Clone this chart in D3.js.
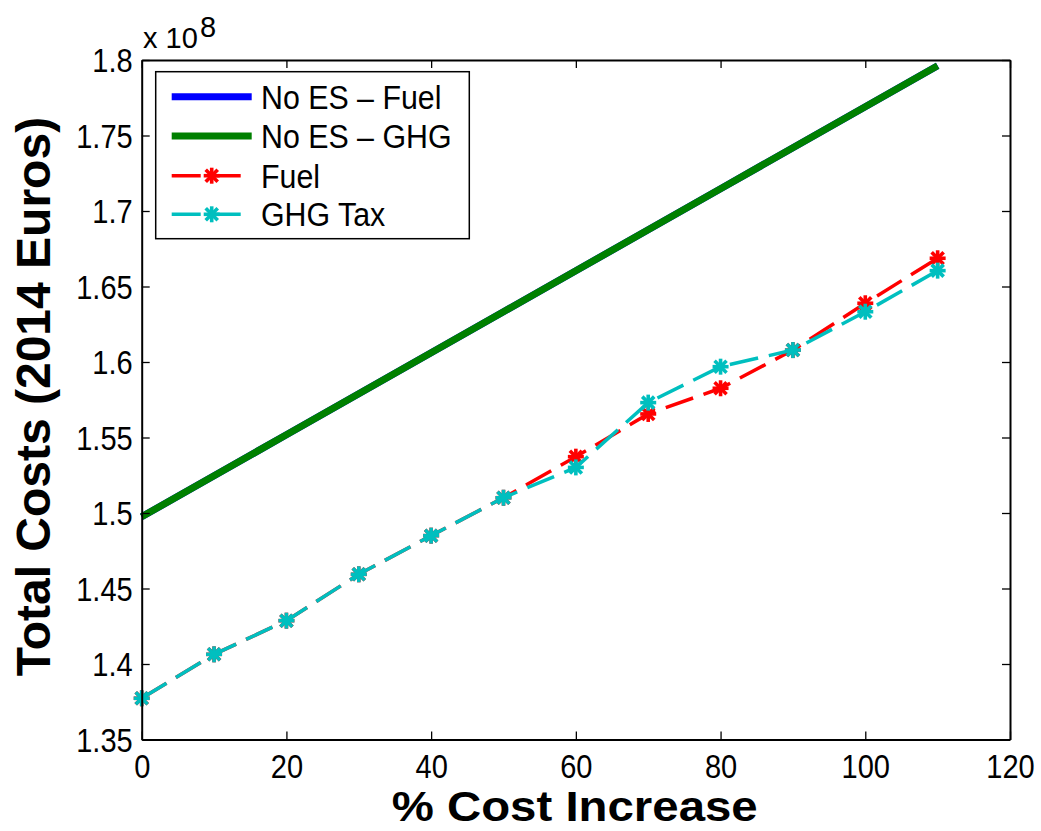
<!DOCTYPE html>
<html>
<head>
<meta charset="utf-8">
<script src="https://cdn.jsdelivr.net/npm/d3@7"></script>
<style>
  html, body { margin: 0; padding: 0; background: #fff; }
  svg { display: block; }
  text { font-family: "Liberation Sans", Arial, Helvetica, sans-serif; fill: #000; }
</style>
</head>
<body>
<svg id="chart" width="1041" height="831"></svg>
<script>
// ---- data (values in units of 1e8 Euros) ----
const costIncrease = [0, 10, 20, 30, 40, 50, 60, 70, 80, 90, 100, 110];
const noEsFuel = [1.4975, 1.5247, 1.5518, 1.5790, 1.6061, 1.6333, 1.6604, 1.6876, 1.7147, 1.7419, 1.7690, 1.7962];
const noEsGhg  = [1.4975, 1.5247, 1.5518, 1.5790, 1.6061, 1.6333, 1.6604, 1.6876, 1.7147, 1.7419, 1.7690, 1.7962];
const fuel     = [1.3773, 1.4064, 1.4287, 1.4594, 1.4850, 1.5101, 1.5373, 1.5656, 1.5826, 1.6079, 1.6389, 1.6687];
const ghgTax   = [1.3773, 1.4064, 1.4287, 1.4594, 1.4850, 1.5101, 1.5302, 1.5731, 1.5969, 1.6079, 1.6333, 1.6605];
const xTicks = [0, 20, 40, 60, 80, 100, 120];
const yTicks = [1.35, 1.4, 1.45, 1.5, 1.55, 1.6, 1.65, 1.7, 1.75, 1.8];
const seriesNames = ["No ES \u2013 Fuel", "No ES \u2013 GHG", "Fuel", "GHG Tax"];
const seriesColors = ["#0000ff", "#008000", "#ff0000", "#00bfbf"];

// ---- layout ----
const svg = d3.select("#chart");
const L = 141.7, R = 1010, T = 60, B = 739.5;
const x = d3.scaleLinear().domain([0, 120]).range([L, R]);
const y = d3.scaleLinear().domain([1.35, 1.8]).range([B, T]);
const SX = 0.88; // narrow glyph look
const fmt = d => String(+d.toFixed(2));

// ---- series ----
const line = d3.line().x(d => x(d[0])).y(d => y(d[1]));
const zip = vals => costIncrease.map((c, i) => [c, vals[i]]);

const gPlot = svg.append("g");
gPlot.append("path").datum(zip(noEsFuel)).attr("d", line)
  .attr("fill", "none").attr("stroke", seriesColors[0]).attr("stroke-width", 7);
gPlot.append("path").datum(zip(noEsGhg)).attr("d", line)
  .attr("fill", "none").attr("stroke", seriesColors[1]).attr("stroke-width", 7);

function asterisk(g, cx, cy, color) {
  const r = 8, d = 6;
  const s = g.append("g").attr("transform", `translate(${cx},${cy})`)
    .attr("stroke", color).attr("stroke-width", 3.6).attr("stroke-linecap", "butt");
  s.append("line").attr("x1", -r).attr("x2", r).attr("y1", 0).attr("y2", 0);
  s.append("line").attr("x1", 0).attr("x2", 0).attr("y1", -r).attr("y2", r);
  s.append("line").attr("x1", -d).attr("x2", d).attr("y1", -d).attr("y2", d);
  s.append("line").attr("x1", -d).attr("x2", d).attr("y1", d).attr("y2", -d);
}

[[fuel, seriesColors[2]], [ghgTax, seriesColors[3]]].forEach(([vals, col]) => {
  gPlot.append("path").datum(zip(vals)).attr("d", line)
    .attr("fill", "none").attr("stroke", col).attr("stroke-width", 3.5)
    .attr("stroke-dasharray", "29,11");
  zip(vals).forEach(p => asterisk(gPlot, x(p[0]), y(p[1]), col));
});

// ---- axes (MATLAB-style box with inward ticks) ----
const axStroke = g => {
  g.selectAll(".domain").attr("stroke", "#000").attr("stroke-width", 2);
  g.selectAll(".tick line").attr("stroke", "#000").attr("stroke-width", 1.3);
};

const gx = svg.append("g").attr("transform", `translate(0,${B})`)
  .call(d3.axisBottom(x).tickValues(xTicks).tickSizeInner(-8).tickSizeOuter(0).tickFormat(d3.format("d")));
axStroke(gx);
gx.selectAll(".tick text").attr("y", null).attr("dy", null)
  .attr("transform", `translate(0,38) scale(${SX},1)`)
  .attr("font-size", 33).attr("font-family", null).attr("text-anchor", "middle");

const gy = svg.append("g").attr("transform", `translate(${L},0)`)
  .call(d3.axisLeft(y).tickValues(yTicks).tickSizeInner(-8).tickSizeOuter(0).tickFormat(fmt));
axStroke(gy);
gy.selectAll(".tick text").attr("x", null).attr("dy", "0.36em")
  .attr("transform", `translate(-9,0) scale(${SX},1)`)
  .attr("font-size", 33).attr("font-family", null).attr("text-anchor", "end");

const gt = svg.append("g").attr("transform", `translate(0,${T})`)
  .call(d3.axisTop(x).tickValues(xTicks).tickSizeInner(-8).tickSizeOuter(0).tickFormat(""));
axStroke(gt);
const gr = svg.append("g").attr("transform", `translate(${R},0)`)
  .call(d3.axisRight(y).tickValues(yTicks).tickSizeInner(-8).tickSizeOuter(0).tickFormat(""));
axStroke(gr);
svg.selectAll(".tick text").attr("fill", "#000");

// exponent label
svg.append("text").attr("x", 143).attr("y", 48).attr("font-size", 29).text("x 10");
svg.append("text").attr("x", 200).attr("y", 37).attr("font-size", 29).text("8");

// ---- axis titles ----
svg.append("text").attr("x", 574.7).attr("y", 821).attr("text-anchor", "middle")
  .attr("font-size", 42).attr("font-weight", "bold")
  .attr("textLength", 366).attr("lengthAdjust", "spacingAndGlyphs")
  .text("% Cost Increase");
svg.append("text").attr("transform", "translate(50,396.5) rotate(-90)")
  .attr("text-anchor", "middle").attr("font-size", 48).attr("font-weight", "bold")
  .text("Total Costs (2014 Euros)");

// ---- legend ----
const lg = svg.append("g");
lg.append("rect").attr("x", 155.7).attr("y", 71.7).attr("width", 313.6).attr("height", 167)
  .attr("fill", "#fff").attr("stroke", "#000").attr("stroke-width", 1.5);
const rowY = [96.7, 136, 175.7, 214.3];
seriesNames.forEach((name, i) => {
  const cy = rowY[i];
  if (i < 2) {
    lg.append("line").attr("x1", 171.7).attr("x2", 251.7).attr("y1", cy).attr("y2", cy)
      .attr("stroke", seriesColors[i]).attr("stroke-width", 7);
  } else {
    lg.append("line").attr("x1", 171.7).attr("x2", 251.7).attr("y1", cy).attr("y2", cy)
      .attr("stroke", seriesColors[i]).attr("stroke-width", 3.5).attr("stroke-dasharray", "29,11");
    asterisk(lg, 211.7, cy, seriesColors[i]);
  }
  lg.append("text").attr("transform", `translate(261,${cy + 12}) scale(0.92,1)`)
    .attr("font-size", 33).text(name);
});
</script>
</body>
</html>
